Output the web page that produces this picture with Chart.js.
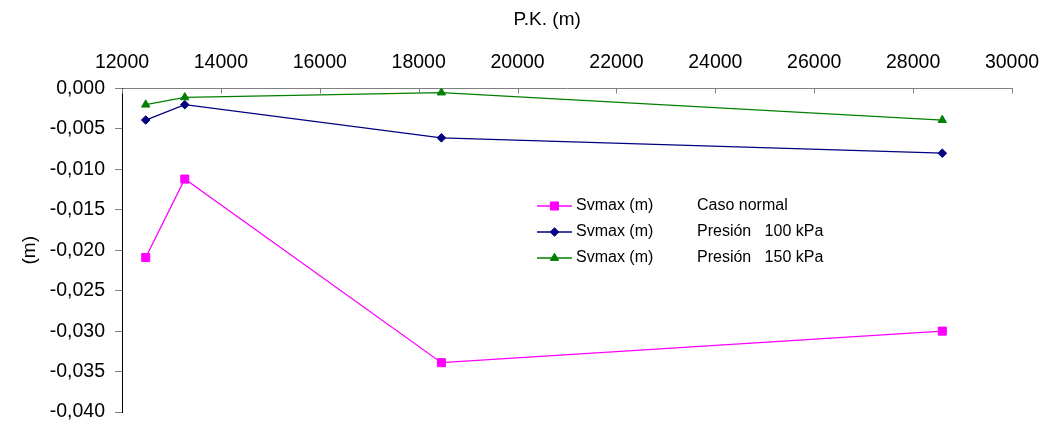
<!DOCTYPE html>
<html>
<head>
<meta charset="utf-8">
<script src="https://cdn.jsdelivr.net/npm/chart.js@4.4.1/dist/chart.umd.min.js"></script>
<style>
  html, body { margin: 0; padding: 0; background: #fff; }
  canvas { display: block; }
</style>
</head>
<body>
<canvas id="c" width="1043" height="425"></canvas>
<script>
// P.K. stations (m)
const pk = [12480, 13270, 18460, 28590];
// Maximum vertical settlement Svmax (m) for each case
const svNormal = [-0.0209, -0.0112, -0.0339, -0.0300];
const sv100 = [-0.0039, -0.0020, -0.0061, -0.0080];
const sv150 = [-0.0020, -0.0011, -0.0005, -0.0039];

const seriesLabels = ['Svmax (m)', 'Svmax (m)', 'Svmax (m)'];
const caseLabels = ['Caso normal', 'Presión   100 kPa', 'Presión   150 kPa'];

const FONT = '"Liberation Sans", Arial, sans-serif';

function pts(ys) { return ys.map((y, i) => ({ x: pk[i], y })); }

// Tick marks of the top axis point down into the plot area
const innerTicks = {
  id: 'innerTicks',
  afterDraw(chart) {
    const s = chart.scales.x, ctx = chart.ctx;
    ctx.save();
    ctx.strokeStyle = '#808080';
    ctx.lineWidth = 1;
    s.ticks.forEach(t => {
      const x = Math.round(s.getPixelForValue(t.value)) + 0.5;
      ctx.beginPath();
      ctx.moveTo(x, s.bottom);
      ctx.lineTo(x, s.bottom + 5);
      ctx.stroke();
    });
    ctx.restore();
  }
};

// Two-column legend drawn inside the plot area
const caseLegend = {
  id: 'caseLegend',
  afterDraw(chart) {
    const ctx = chart.ctx;
    const x0 = 537, x1 = 572, xt1 = 576, xt2 = 697;
    const rows = [206, 232, 258];
    ctx.save();
    ctx.font = '16px ' + FONT;
    ctx.textBaseline = 'middle';
    chart.data.datasets.forEach((ds, i) => {
      const y = rows[i];
      ctx.strokeStyle = ds.borderColor;
      ctx.lineWidth = 1.3;
      ctx.beginPath();
      ctx.moveTo(x0, y); ctx.lineTo(x1, y);
      ctx.stroke();
      ctx.fillStyle = ds.pointBackgroundColor;
      ctx.strokeStyle = ds.pointBorderColor;
      ctx.lineWidth = 1;
      Chart.helpers.drawPoint(ctx, {
        pointStyle: ds.pointStyle, rotation: 0, radius: ds.pointRadius, borderWidth: 1
      }, (x0 + x1) / 2, y);
      ctx.fillStyle = '#000';
      ctx.fillText(seriesLabels[i], xt1, y);
      ctx.fillText(caseLabels[i], xt2, y);
    });
    ctx.restore();
  }
};

// Axis title for the top axis, centred a little left of the plot middle
const topTitle = {
  id: 'topTitle',
  afterDraw(chart) {
    const ctx = chart.ctx, s = chart.scales.x;
    ctx.save();
    ctx.font = '19px ' + FONT;
    ctx.fillStyle = '#000';
    ctx.textAlign = 'center';
    ctx.textBaseline = 'middle';
    ctx.fillText('P.K. (m)', s.getPixelForValue(20600), 20);
    ctx.restore();
  }
};

const mk = (label, data, color, style, r) => ({
  label, data,
  borderColor: color, backgroundColor: color,
  pointBackgroundColor: color, pointBorderColor: color,
  pointStyle: style, pointRadius: r, pointHoverRadius: r,
  borderWidth: 1.3, pointBorderWidth: 1, tension: 0
});

Chart.defaults.font.family = FONT;
Chart.defaults.color = '#000';

new Chart(document.getElementById('c'), {
  type: 'line',
  data: {
    datasets: [
      mk(seriesLabels[0], pts(svNormal), '#FF00FF', 'rect', 5.7),
      mk(seriesLabels[1], pts(sv100), '#000080', 'rectRot', 4.3),
      mk(seriesLabels[2], pts(sv150), '#008000', 'triangle', 4.8)
    ]
  },
  options: {
    responsive: false,
    animation: false,
    layout: { padding: { left: 0, right: 31, top: 0, bottom: 13 } },
    plugins: { legend: { display: false }, tooltip: { enabled: false } },
    scales: {
      x: {
        type: 'linear', position: 'top', min: 12000, max: 30000,
        ticks: { stepSize: 2000, padding: 14, font: { size: 19.5 }, maxRotation: 0,
                 callback: v => String(v) },
        grid: { drawOnChartArea: false, drawTicks: false },
        border: { color: '#808080', width: 1 },
        title: { display: false },
        afterFit(s) { s.height = 88.5; s.paddingLeft = 0; s.paddingRight = 0; }
      },
      y: {
        min: -0.04, max: 0,
        ticks: { stepSize: 0.005, padding: 10, font: { size: 19.5 },
                 callback: v => (Math.abs(v) < 1e-9 ? 0 : v).toFixed(3).replace('.', ',') },
        grid: { drawOnChartArea: false, tickLength: 7, color: '#808080' },
        border: { color: '#000', width: 1 },
        title: { display: true, text: '(m)', font: { size: 19 }, padding: { top: 18, bottom: 0 } },
        afterFit(s) { s.width = 122; s.paddingTop = 0; s.paddingBottom = 0; }
      }
    }
  },
  plugins: [innerTicks, caseLegend, topTitle]
});
</script>
</body>
</html>
